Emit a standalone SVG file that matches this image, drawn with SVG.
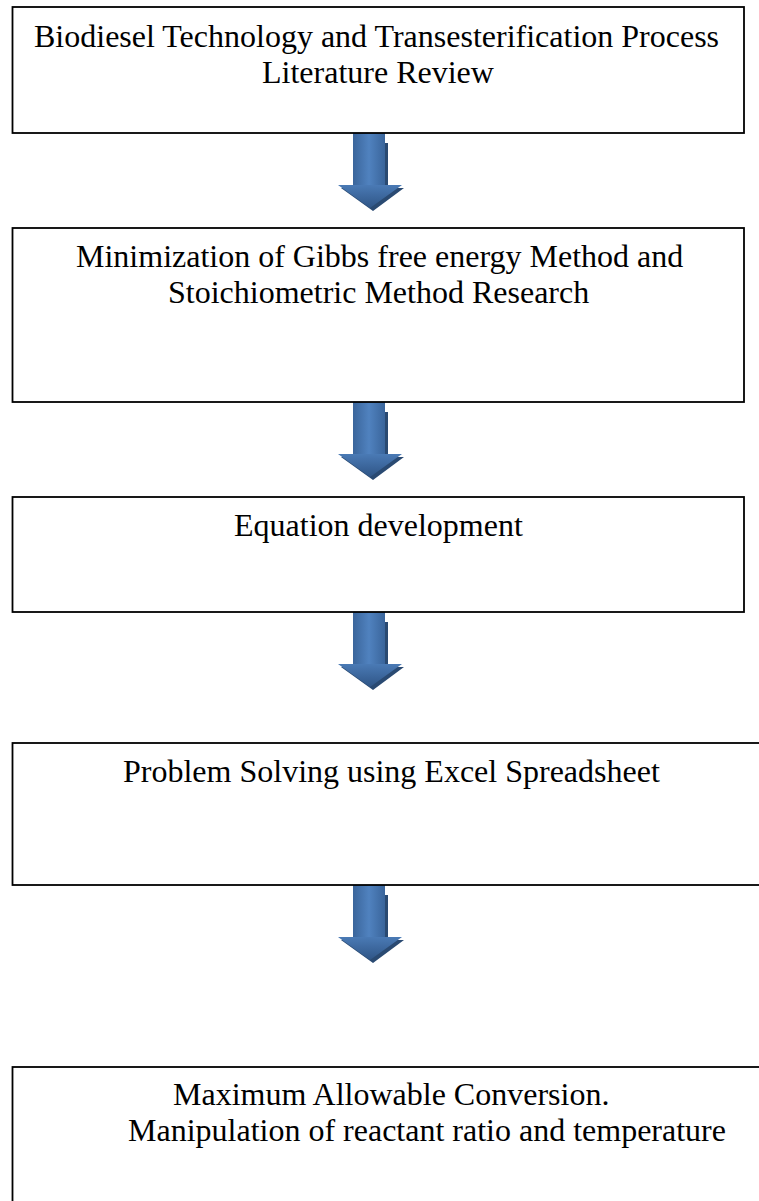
<svg xmlns="http://www.w3.org/2000/svg" width="759" height="1201" viewBox="0 0 759 1201">
<style>
.box{fill:#ffffff;stroke:#000000;stroke-width:1.8}
.t{font-family:"Liberation Serif","Times New Roman",serif;font-size:32px;fill:#000000}
</style>
<defs>
<linearGradient id="shaft" x1="0" y1="0" x2="1" y2="0">
<stop offset="0" stop-color="#3a659b"/>
<stop offset="0.5" stop-color="#5082bf"/>
<stop offset="1" stop-color="#3a659b"/>
</linearGradient>
<linearGradient id="head" x1="0" y1="0" x2="0" y2="1">
<stop offset="0" stop-color="#4a7ab5"/>
<stop offset="1" stop-color="#2f5586"/>
</linearGradient>
<g id="arrow">
<path d="M356,10 H388 V55 H404 L373,78 L341,55 H356 Z" fill="#2a4a72"/>
<rect x="353" y="0" width="32" height="52" fill="url(#shaft)"/>
<path d="M338,52 H402 L370,75 Z" fill="url(#head)"/>
</g>
</defs>
<rect width="759" height="1201" fill="#ffffff"/>
<g id="connectors">
<use href="#arrow" transform="translate(0,133)"/>
<use href="#arrow" transform="translate(0,402)"/>
<use href="#arrow" transform="translate(0,612)"/>
<use href="#arrow" transform="translate(0,885)"/>
</g>
<g id="node1">
<rect class="box" x="12.5" y="7" width="731.5" height="126"/>
<text class="t" x="34" y="47">Biodiesel Technology and Transesterification Process</text>
<text class="t" x="262" y="83">Literature Review</text>
</g>
<g id="node2">
<rect class="box" x="12.5" y="228" width="731.5" height="174"/>
<text class="t" x="76" y="267">Minimization of Gibbs free energy Method and</text>
<text class="t" x="168" y="303">Stoichiometric Method Research</text>
</g>
<g id="node3">
<rect class="box" x="12.5" y="497" width="731.5" height="115"/>
<text class="t" x="234" y="536">Equation development</text>
</g>
<g id="node4">
<rect class="box" x="12.5" y="743" width="760" height="142"/>
<text class="t" x="123" y="782">Problem Solving using Excel Spreadsheet</text>
</g>
<g id="node5">
<rect class="box" x="12.5" y="1067" width="760" height="150"/>
<text class="t" x="173" y="1105">Maximum Allowable Conversion.</text>
<text class="t" x="128" y="1141">Manipulation of reactant ratio and temperature</text>
</g>
</svg>
